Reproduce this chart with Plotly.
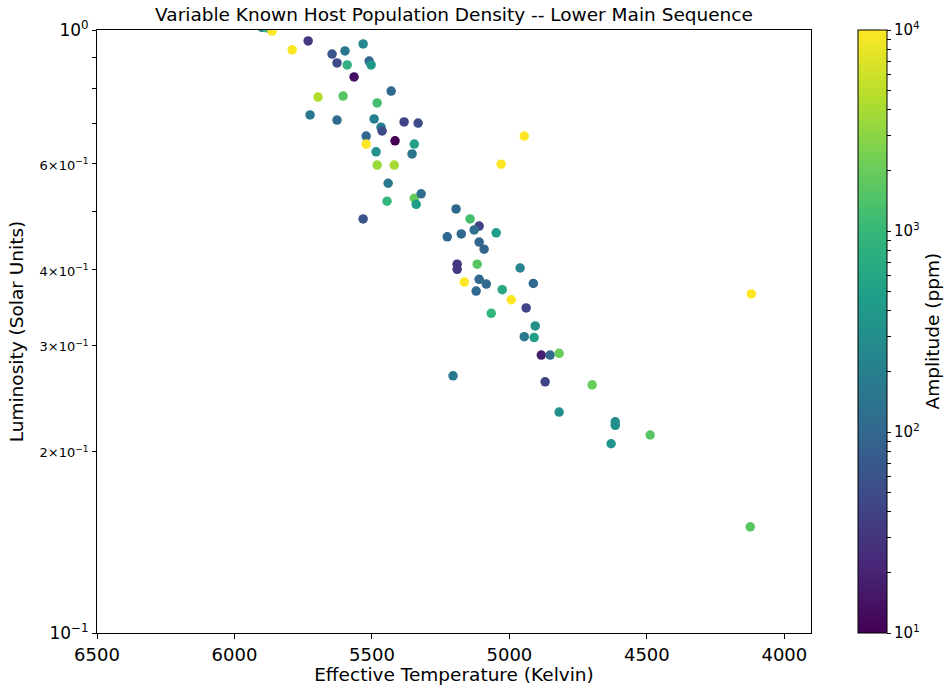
import numpy as np
import plotly.graph_objects as go

# Effective temperature (K)
teff = [5900, 5881, 5863, 5790, 5732, 5645, 5598, 5532, 5627, 5590,
        5510, 5503, 5565, 5696, 5605, 5430, 5481, 5725, 5627, 5492,
        5467, 5463, 5383, 5332, 5521, 5521, 5416, 5346, 5485, 5354,
        5481, 5419, 5441, 5445, 5346, 5321, 5339, 5532, 5194, 5143,
        5110, 5128, 5048, 5226, 5175, 5110, 5092, 5190, 5190, 5117,
        4961, 5164, 5110, 5084, 5121, 5026, 4913, 4993, 4939, 5066,
        4906, 4946, 4910, 4884, 4852, 4819, 5205, 4870, 4699, 4819,
        4615, 4615, 4488, 4630, 4124, 4120, 4946, 5030]

# Luminosity (solar units)
lum = [1.01, 1.008, 0.996, 0.927, 0.959, 0.912, 0.923, 0.948, 0.882, 0.875,
       0.888, 0.875, 0.836, 0.774, 0.777, 0.792, 0.757, 0.723, 0.709, 0.712,
       0.690, 0.680, 0.704, 0.701, 0.667, 0.647, 0.655, 0.647, 0.628, 0.623,
       0.597, 0.597, 0.557, 0.520, 0.526, 0.535, 0.514, 0.486, 0.505, 0.486,
       0.473, 0.466, 0.461, 0.454, 0.459, 0.445, 0.433, 0.409, 0.401, 0.409,
       0.403, 0.382, 0.386, 0.379, 0.369, 0.371, 0.380, 0.357, 0.346, 0.339,
       0.323, 0.310, 0.309, 0.289, 0.289, 0.291, 0.267, 0.261, 0.258, 0.2325,
       0.224, 0.221, 0.213, 0.206, 0.150, 0.365, 0.667, 0.599]

# Variability amplitude (ppm)
amp = [250, 1000, 10000, 10000, 32, 63, 160, 250, 50, 800,
       100, 400, 13, 4500, 1600, 100, 1250, 160, 100, 200,
       200, 50, 40, 50, 100, 10000, 10, 500, 320, 140,
       3500, 4000, 160, 1000, 2000, 125, 450, 63, 100, 1250,
       40, 125, 450, 100, 100, 90, 90, 32, 32, 1600,
       225, 10000, 100, 100, 100, 630, 100, 10000, 40, 900,
       320, 160, 500, 18, 100, 2000, 160, 40, 2000, 320,
       280, 320, 1600, 355, 1600, 10000, 10000, 10000]

x_ticks = [6500, 6000, 5500, 5000, 4500, 4000]
y_ticks = [0.1, 0.2, 0.3, 0.4, 0.5, 0.6, 0.7, 0.8, 0.9, 1.0]
small = "<span style='font-size:13px'>%s×10<sup>−1</sup></span>"
y_ticktext = ["10<sup>−1</sup>", small % 2, small % 3, small % 4, "",
              small % 6, "", "", "", "10<sup>0</sup>"]

cb_labels = ["10<sup>1</sup>", "10<sup>2</sup>", "10<sup>3</sup>", "10<sup>4</sup>"]

assert len(teff) == len(lum) == len(amp)

cb_vals, cb_text = [], []
for d in range(1, 4):
    for m in range(1, 10):
        cb_vals.append(d + np.log10(m))
        cb_text.append(cb_labels[d - 1] if m == 1 else "")
cb_vals.append(4)
cb_text.append(cb_labels[3])

color = np.log10(np.clip(amp, 10, 10000))

font = "DejaVu Sans"
L, R, T, B = 97, 811, 30, 633
fig = go.Figure()
fig.add_trace(go.Scatter(
    x=teff, y=lum, mode="markers",
    marker=dict(size=9.5, color=color, colorscale="Viridis", cmin=1, cmax=4,
                line=dict(width=0),
                colorbar=dict(
                    x=(858 - L) / (R - L), xanchor="left", xpad=0,
                    y=0.5, yanchor="middle", ypad=0,
                    len=1.0, lenmode="fraction", thickness=29,
                    outlinewidth=1, outlinecolor="#000",
                    tickmode="array", tickvals=cb_vals, ticktext=cb_text,
                    ticks="outside", ticklen=4, tickcolor="#000",
                    tickfont=dict(family=font, size=15, color="#000"),
                )),
    showlegend=False,
))

fig.add_annotation(
    text="Amplitude (ppm)", textangle=-90,
    xref="paper", yref="paper", x=(932 - L) / (R - L), y=0.5,
    xanchor="center", yanchor="middle", showarrow=False,
    font=dict(family=font, size=18.5, color="#000"),
)

fig.update_layout(
    width=945, height=685,
    margin=dict(l=L, r=945 - R, t=T, b=685 - B, autoexpand=False),
    paper_bgcolor="white", plot_bgcolor="white",
    title=dict(text="Variable Known Host Population Density -- Lower Main Sequence",
               x=(L + R) / 2 / 945, xanchor="center", y=1 - 15 / 685, yanchor="middle",
               font=dict(family=font, size=18.5, color="#000")),
    font=dict(family=font, color="#000"),
)
fig.update_xaxes(
    range=[6500, 3903], tickmode="array", tickvals=x_ticks,
    ticks="outside", ticklen=5, tickcolor="#000",
    showline=True, linecolor="#000", linewidth=1, mirror=True,
    showgrid=False, zeroline=False,
    tickfont=dict(family=font, size=18, color="#000"),
    title=dict(text="Effective Temperature (Kelvin)", standoff=0,
               font=dict(family=font, size=18.5, color="#000")),
)
fig.update_yaxes(
    type="log", range=[-1, 0], tickmode="array", tickvals=y_ticks, ticktext=y_ticktext,
    ticks="outside", ticklen=4, tickcolor="#000",
    showline=True, linecolor="#000", linewidth=1, mirror=True,
    showgrid=False, zeroline=False,
    tickfont=dict(family=font, size=17, color="#000"),
    title=dict(text="Luminosity (Solar Units)", standoff=10,
               font=dict(family=font, size=18.5, color="#000")),
)

fig.write_html("out.html")
